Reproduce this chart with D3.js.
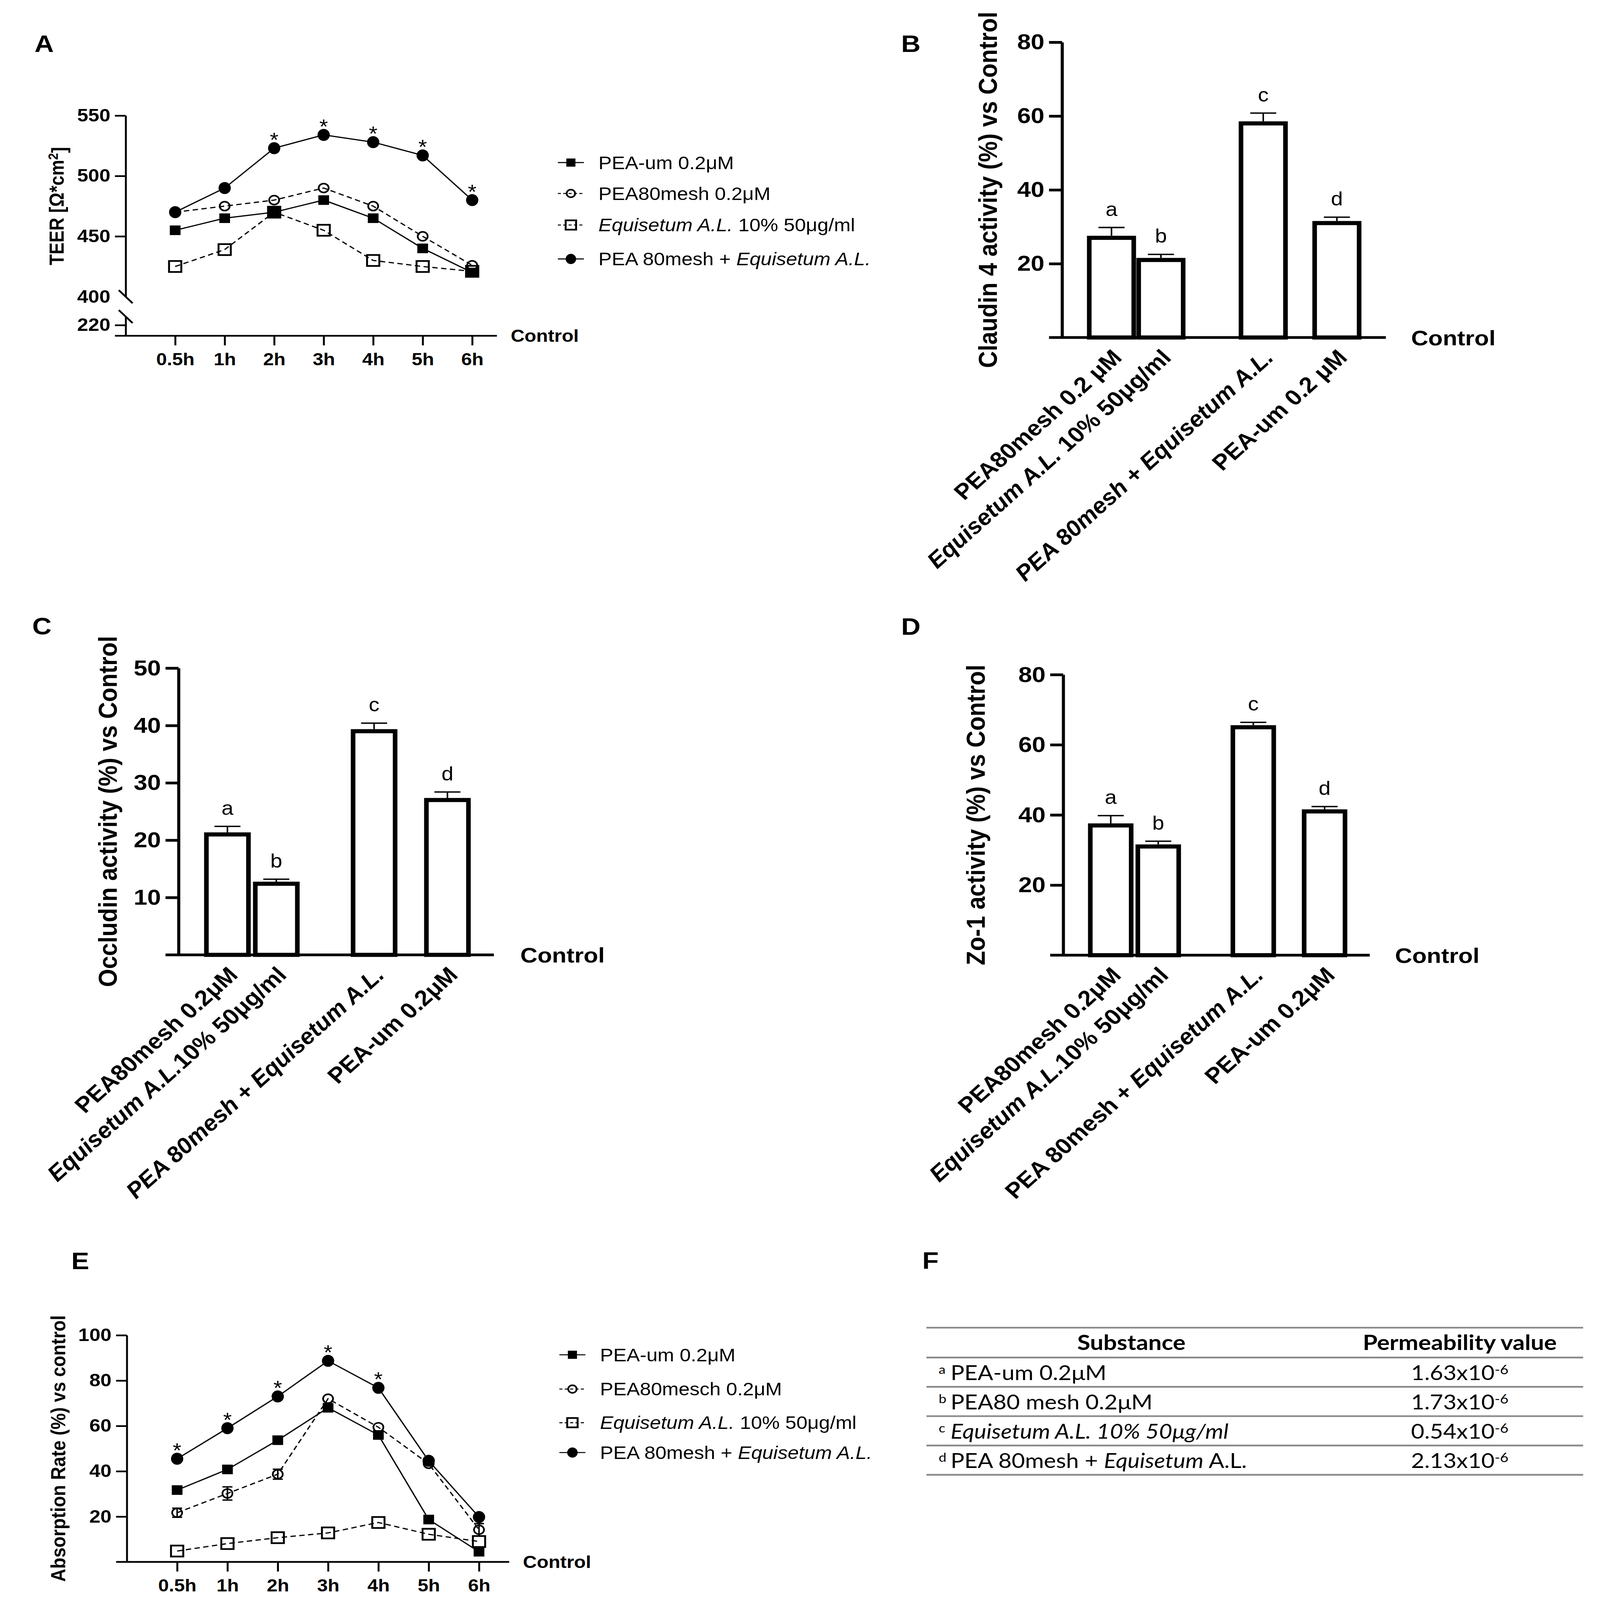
<!DOCTYPE html>
<html>
<head>
<meta charset="utf-8">
<script src="https://cdn.jsdelivr.net/npm/d3@7"></script>
<style>
html, body { margin: 0; padding: 0; background: #fff; height: 100%; overflow: hidden; }
svg { display: block; width: 100vw; height: 100vh; }
text { white-space: pre; }
</style>
</head>
<body>
<svg id="fig" viewBox="0 0 4176 4665" preserveAspectRatio="none"></svg>
<script>
// ---------------- data ----------------
var hours = ["0.5h", "1h", "2h", "3h", "4h", "5h", "6h"];

// panel A : TEER
var teerNames = ["PEA-um 0.2μM", "PEA80mesh 0.2μM", "_Equisetum A.L._ 10% 50μg/ml", "PEA 80mesh + _Equisetum A.L._"];
var teerUm  = [455, 465, 470, 480, 465, 440, 420];
var teer80  = [470, 475, 480, 490, 475, 450, 426];
var teerEq  = [425, 439, 470, 455, 430, 425, 421];
var teerMix = [470, 490, 523, 534, 528, 517, 480];
var teerStar = [0, 0, 1, 1, 1, 1, 1];
var teerTicks = [400, 450, 500, 550];

// panels B, C, D : bars
var letters = ["a", "b", "c", "d"];
var claudinLabels = ["PEA80mesh 0.2 μM", "_Equisetum A.L._ 10% 50μg/ml", "_PEA 80mesh + Equisetum A.L._", "PEA-um 0.2 μM"];
var claudinVal = [27, 21, 58, 31];
var claudinErr = [2.8, 1.5, 2.8, 1.6];
var occludinLabels = ["PEA80mesh 0.2μM", "_Equisetum A.L._10% 50μg/ml", "_PEA 80mesh + Equisetum A.L._", "PEA-um 0.2μM"];
var occludinVal = [21, 12.4, 39, 27];
var occludinErr = [1.4, 0.8, 1.4, 1.4];
var zoLabels = ["PEA80mesh 0.2μM", "_Equisetum A.L._10% 50μg/ml", "PEA 80mesh + _Equisetum A.L._", "PEA-um 0.2μM"];
var zoVal = [37, 31, 65, 41];
var zoErr = [2.8, 1.5, 1.4, 1.4];

// panel E : absorption
var absNames = ["PEA-um 0.2μM", "PEA80mesch 0.2μM", "_Equisetum A.L._ 10% 50μg/ml", "PEA 80mesh + _Equisetum A.L._"];
var absUm  = [31.7, 40.8, 53.7, 68, 56, 18.7, 4.5];
var abs80  = [21.7, 30.2, 38.7, 72, 59.4, 43.3, 14.2];
var absEq  = [4.8, 8.1, 10.7, 12.8, 17.4, 12.2, 9];
var absMix = [45.5, 59, 73, 88.7, 76.8, 44.6, 19.8];
var abs80Err = [2, 2.9, 2.2, 0, 0, 0, 2.7];
var absStar = [1, 1, 1, 1, 1, 0, 0];

// panel F : table
var tableHead = ["Substance", "Permeability value"];
var tableSup = ["a", "b", "c", "d"];
var tableNames = ["PEA-um 0.2μM", "PEA80 mesh 0.2μM", "_Equisetum A.L. 10% 50μg/ml_", "PEA 80mesh + _Equisetum_ A.L."];
var tableMant = ["1.63x10", "1.73x10", "0.54x10", "2.13x10"];
var tableExp = ["-6", "-6", "-6", "-6"];

// ---------------- drawing ----------------
var FONT = "'Liberation Sans', Arial, Helvetica, sans-serif";
var svg = d3.select("#fig").style("font-family", FONT);

// text with _italic_ parts
function rich(sel, str) {
    str.split("_").forEach(function(part, i) {
        if (part === "") return;
        sel.append("tspan").style("font-style", i % 2 ? "italic" : "normal").text(part);
    });
    return sel;
}

function styleAxis(ax, fs, sw) {
    ax.attr("font-size", null).attr("font-family", null);
    ax.selectAll("path, line").attr("stroke", "#000").attr("stroke-width", sw);
    ax.selectAll("text").attr("fill", "#000")
        .style("font-size", fs + "px").style("font-weight", "bold").style("font-family", FONT);
}

function panelLetter(t, x, y) {
    svg.append("text").attr("x", x).attr("y", y).text(t)
        .style("font-size", "70px").style("font-weight", "bold");
}

// series look: filled square, open circle, open square, filled circle
var seriesStyle = [
    { shape: "sq",  dash: null,   sw: 3.5 },
    { shape: "oc",  dash: "14,9", sw: 3.5 },
    { shape: "osq", dash: "14,9", sw: 3.5 },
    { shape: "c",   dash: null,   sw: 3.5 }
];

function marker(g, shape, cx, cy, k) {
    if (shape === "sq") {
        g.append("rect").attr("x", cx - 14 * k).attr("y", cy - 14 * k)
            .attr("width", 28 * k).attr("height", 28 * k).attr("fill", "#000");
    } else if (shape === "osq") {
        g.append("rect").attr("x", cx - 16 * k).attr("y", cy - 16 * k)
            .attr("width", 32 * k).attr("height", 32 * k)
            .attr("fill", "none").attr("stroke", "#000").attr("stroke-width", 5);
    } else if (shape === "oc") {
        g.append("circle").attr("cx", cx).attr("cy", cy).attr("r", 13 * k)
            .attr("fill", "none").attr("stroke", "#000").attr("stroke-width", 4.5);
    } else {
        g.append("ellipse").attr("cx", cx).attr("cy", cy).attr("rx", 16 * k).attr("ry", 17.5 * k)
            .attr("fill", "#000");
    }
}

function lineChart(o) {
    var g = svg.append("g");
    var x = d3.scaleLinear().domain([0, o.xmax]).range(o.xr);
    var y = d3.scaleLinear().domain(o.ydom).range(o.yr);

    // y axis
    var ya = g.append("g").attr("transform", "translate(" + o.xr[0] + ",0)")
        .call(d3.axisLeft(y).tickValues(o.yticks).tickSize(28).tickPadding(12).tickSizeOuter(0));
    styleAxis(ya, 52, 5);

    var xAxisY = o.xAxisY;
    if (o.brk) {
        // broken axis: drop the tick at the break and add the short low segment
        ya.selectAll(".tick").filter(function(d) { return d === o.ydom[0]; }).select("line").remove();
        var yLow = d3.scaleLinear().domain(o.lowDom).range(o.lowRange);
        var yl = g.append("g").attr("transform", "translate(" + o.xr[0] + ",0)")
            .call(d3.axisLeft(yLow).tickValues(o.lowTicks).tickSize(28).tickPadding(12).tickSizeOuter(0));
        styleAxis(yl, 52, 5);
        [y(o.ydom[0]), yLow(o.lowDom[1])].forEach(function(by) {
            g.append("line").attr("x1", o.xr[0] - 18).attr("y1", by - 19)
                .attr("x2", o.xr[0] + 18).attr("y2", by + 19)
                .attr("stroke", "#000").attr("stroke-width", 5);
        });
    }

    // x axis
    var xa = g.append("g").attr("transform", "translate(0," + xAxisY + ")")
        .call(d3.axisBottom(x).tickValues(d3.range(1, hours.length + 1))
            .tickFormat(function(i) { return hours[i - 1]; })
            .tickSize(28).tickPadding(22).tickSizeOuter(0));
    styleAxis(xa, 50, 5);
    xa.select(".domain").remove();
    g.append("line").attr("x1", o.xr[0] - 28).attr("x2", x(o.xmax))
        .attr("y1", xAxisY).attr("y2", xAxisY).attr("stroke", "#000").attr("stroke-width", 5);

    g.append("text").attr("x", x(o.xmax) + 36).attr("y", xAxisY).attr("dy", "0.36em")
        .text("Control").style("font-size", "50px").style("font-weight", "bold");

    g.append("text").attr("transform", "translate(" + o.titleX + "," + ((o.yr[0] + o.yr[1]) / 2) + ") rotate(-90)")
        .attr("text-anchor", "middle").attr("dy", "0.36em")
        .style("font-size", o.titleFs + "px").style("font-weight", "bold")
        .call(o.title);

    // series
    o.series.forEach(function(vals, s) {
        var st = seriesStyle[s];
        g.append("path").datum(vals)
            .attr("d", d3.line().x(function(d, i) { return x(i + 1); }).y(function(d) { return y(d); }))
            .attr("fill", "none").attr("stroke", "#000").attr("stroke-width", st.sw)
            .attr("stroke-dasharray", st.dash);
    });
    if (o.err) {
        o.err.vals.forEach(function(e, i) {
            if (!e) return;
            var v = o.series[o.err.series][i], cx = x(i + 1);
            g.append("line").attr("x1", cx).attr("x2", cx).attr("y1", y(v - e)).attr("y2", y(v + e))
                .attr("stroke", "#000").attr("stroke-width", 4);
            [v - e, v + e].forEach(function(w) {
                g.append("line").attr("x1", cx - 13).attr("x2", cx + 13).attr("y1", y(w)).attr("y2", y(w))
                    .attr("stroke", "#000").attr("stroke-width", 4);
            });
        });
    }
    o.series.forEach(function(vals, s) {
        vals.forEach(function(v, i) { marker(g, seriesStyle[s].shape, x(i + 1), y(v), 1); });
    });
    o.stars.forEach(function(f, i) {
        if (!f) return;
        var v = o.series[3][i];
        g.append("text").attr("x", x(i + 1)).attr("y", y(v) - 4).attr("text-anchor", "middle")
            .text("*").style("font-size", "58px");
    });

    // legend
    o.names.forEach(function(n, s) {
        var st = seriesStyle[s], ly = o.legY[s];
        g.append("line").attr("x1", o.legX - 34).attr("x2", o.legX + 34).attr("y1", ly).attr("y2", ly)
            .attr("stroke", "#000").attr("stroke-width", 3).attr("stroke-dasharray", st.dash ? "8,6" : null);
        marker(g, st.shape, o.legX, ly, 0.85);
        rich(g.append("text").attr("x", o.legX + 72).attr("y", ly).attr("dy", "0.36em")
            .style("font-size", "52px"), n);
    });
}

function barChart(o) {
    var g = svg.append("g");
    var x = d3.scaleLinear().domain([0, o.xmax]).range([o.ax, o.axEnd]);
    var y = d3.scaleLinear().domain([0, o.ymax]).range([o.y0, o.ytop]);
    var bw = o.bw * (x(1) - x(0));

    o.vals.forEach(function(v, i) {
        var cx = x(o.slots[i]);
        g.append("rect").attr("x", cx - bw / 2).attr("y", y(v)).attr("width", bw).attr("height", y(0) - y(v))
            .attr("fill", "#fff").attr("stroke", "#000").attr("stroke-width", 12);
        var top = y(v + o.errs[i]);
        g.append("line").attr("x1", cx).attr("x2", cx).attr("y1", y(v) - 6).attr("y2", top)
            .attr("stroke", "#000").attr("stroke-width", 4);
        g.append("line").attr("x1", cx - 34).attr("x2", cx + 34).attr("y1", top).attr("y2", top)
            .attr("stroke", "#000").attr("stroke-width", 4);
        g.append("text").attr("x", cx).attr("y", top - 34).attr("text-anchor", "middle")
            .text(letters[i]).style("font-size", "56px");
        rich(g.append("text")
            .attr("transform", "translate(" + (cx + 14) + "," + (y(0) + 46) + ") rotate(-45)")
            .attr("text-anchor", "end").attr("dy", "0.36em")
            .style("font-size", "64px").style("font-weight", "bold"), o.labels[i]);
    });

    var ya = g.append("g").attr("transform", "translate(" + o.ax + ",0)")
        .call(d3.axisLeft(y).tickValues(o.yticks).tickSize(34).tickPadding(12).tickSizeOuter(0));
    styleAxis(ya, 64, 8);
    g.append("line").attr("x1", o.ax - 34).attr("x2", o.axEnd).attr("y1", y(0)).attr("y2", y(0))
        .attr("stroke", "#000").attr("stroke-width", 8);

    g.append("text").attr("x", o.ctrlX).attr("y", y(0)).attr("dy", "0.36em")
        .text("Control").style("font-size", "62px").style("font-weight", "bold");
    g.append("text").attr("transform", "translate(" + o.titleX + "," + ((y(0) + y(o.ymax)) / 2) + ") rotate(-90)")
        .attr("text-anchor", "middle").attr("dy", "0.36em")
        .text(o.title).style("font-size", "68px").style("font-weight", "bold");
}

// ---- A ----
panelLetter("A", 90, 152);
lineChart({
    xmax: 7.5, xr: [328, 1297],
    ydom: [400, 550], yr: [865, 337], yticks: teerTicks,
    brk: true, lowDom: [195, 240], lowRange: [979, 923], lowTicks: [220],
    xAxisY: 979,
    titleX: 147, titleFs: 52,
    title: function(t) {
        t.append("tspan").text("TEER [Ω*cm");
        t.append("tspan").attr("dy", "-0.4em").style("font-size", "36px").text("2");
        t.append("tspan").attr("dy", "0.4em").text("]");
    },
    series: [teerUm, teer80, teerEq, teerMix],
    stars: teerStar,
    names: teerNames, legX: 1490, legY: [474, 564, 656, 755]
});

// ---- B ----
panelLetter("B", 2352, 152);
barChart({
    ax: 2772, axEnd: 3617, xmax: 6.55, slots: [1, 2, 4.07, 5.56], bw: 0.9,
    y0: 984, ytop: 123, ymax: 80, yticks: [20, 40, 60, 80],
    vals: claudinVal, errs: claudinErr, labels: claudinLabels,
    ctrlX: 3683, titleX: 2577, title: "Claudin 4 activity (%) vs Control"
});

// ---- C ----
panelLetter("C", 84, 1850);
barChart({
    ax: 466, axEnd: 1289, xmax: 6.45, slots: [1, 2, 4, 5.5], bw: 0.86,
    y0: 2784, ytop: 1948, ymax: 50, yticks: [10, 20, 30, 40, 50],
    vals: occludinVal, errs: occludinErr, labels: occludinLabels,
    ctrlX: 1358, titleX: 280, title: "Occludin activity (%) vs Control"
});

// ---- D ----
panelLetter("D", 2352, 1851);
barChart({
    ax: 2775, axEnd: 3575, xmax: 6.45, slots: [1, 2, 4, 5.5], bw: 0.86,
    y0: 2785, ytop: 1967, ymax: 80, yticks: [20, 40, 60, 80],
    vals: zoVal, errs: zoErr, labels: zoLabels,
    ctrlX: 3641, titleX: 2546, title: "Zo-1 activity (%) vs Control"
});

// ---- E ----
panelLetter("E", 186, 3700);
lineChart({
    xmax: 7.6, xr: [331, 1329],
    ydom: [0, 100], yr: [4554, 3893], yticks: [20, 40, 60, 80, 100],
    brk: false, xAxisY: 4554,
    titleX: 151, titleFs: 53,
    title: function(t) { t.text("Absorption Rate (%) vs control"); },
    series: [absUm, abs80, absEq, absMix],
    err: { series: 1, vals: abs80Err },
    stars: absStar,
    names: absNames, legX: 1494, legY: [3950, 4050, 4148, 4235]
});

// ---- F : table ----
panelLetter("F", 2407, 3699);
(function() {
    var g = svg.append("g").style("font-family", "Lato, 'Open Sans', sans-serif");
    var tx = [2418, 4132], cols = [2953, 3810];
    var row = d3.scaleLinear().domain([0, tableMant.length]).range([3958, 4300]);
    var lines = [3871].concat(d3.range(tableMant.length + 1).map(row));
    g.selectAll("line.rule").data(lines).join("line").attr("class", "rule")
        .attr("x1", tx[0]).attr("x2", tx[1]).attr("y1", function(d) { return d; }).attr("y2", function(d) { return d; })
        .attr("stroke", "#8a8a8a").attr("stroke-width", 5);
    tableHead.forEach(function(h, i) {
        g.append("text").attr("x", cols[i]).attr("y", row(0) - 22).attr("text-anchor", "middle")
            .text(h).style("font-size", "62px").style("font-weight", "bold");
    });
    tableMant.forEach(function(m, i) {
        var base = row(i + 1) - 20;
        g.append("text").attr("x", tx[0] + 32).attr("y", base - 18).text(tableSup[i]).style("font-size", "36px");
        rich(g.append("text").attr("x", tx[0] + 63).attr("y", base).style("font-size", "60px"), tableNames[i]);
        var t = g.append("text").attr("x", cols[1]).attr("y", base).attr("text-anchor", "middle").style("font-size", "60px");
        t.append("tspan").text(m);
        t.append("tspan").attr("dy", "-0.45em").style("font-size", "38px").text(tableExp[i]);
    });
})();
</script>
</body>
</html>
